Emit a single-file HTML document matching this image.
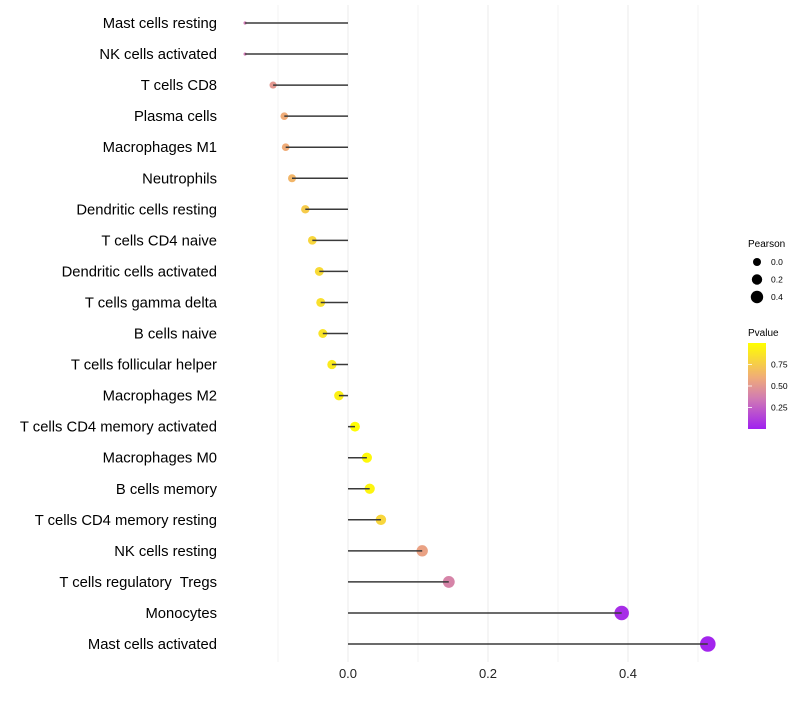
<!DOCTYPE html>
<html><head><meta charset="utf-8"><style>
body{margin:0;background:#fff;font-family:"Liberation Sans",sans-serif}
text{white-space:pre}
</style></head><body>
<svg id="chart" width="800" height="700">
<defs><linearGradient id="pg" x1="0" y1="1" x2="0" y2="0">
<stop offset="0" stop-color="#a020f0"/><stop offset="0.35" stop-color="#d07ab4"/><stop offset="0.6" stop-color="#f0ac78"/><stop offset="1" stop-color="#ffff00"/></linearGradient></defs>
<g id="grid"></g><g id="marks"></g><g id="ylab"></g><g id="xlab"></g>
<g font-size="10">
<text x="748" y="247" fill="#000">Pearson</text>
<g id="sizeleg"></g>
<text x="748" y="336" fill="#000">Pvalue</text>
<rect x="748" y="343" width="18" height="86" fill="url(#pg)"/>
<g id="colleg"></g>
</g>
</svg>
<script>
const categories=["Mast cells resting","NK cells activated","T cells CD8","Plasma cells","Macrophages M1","Neutrophils","Dendritic cells resting","T cells CD4 naive","Dendritic cells activated","T cells gamma delta","B cells naive","T cells follicular helper","Macrophages M2","T cells CD4 memory activated","Macrophages M0","B cells memory","T cells CD4 memory resting","NK cells resting","T cells regulatory  Tregs","Monocytes","Mast cells activated"];
const pearson=[-0.147,-0.147,-0.107,-0.091,-0.089,-0.080,-0.061,-0.051,-0.041,-0.039,-0.036,-0.023,-0.013,0.010,0.027,0.031,0.047,0.106,0.144,0.391,0.514];
const pvalue=[0.35,0.35,0.5,0.6,0.6,0.65,0.75,0.8,0.82,0.85,0.87,0.9,0.93,0.99,0.97,0.95,0.8,0.55,0.4,0.05,0.02];
const xTicks=[0.0,0.2,0.4];
const xGrid=[-0.1,0.0,0.1,0.2,0.3,0.4,0.5];
const sizeLegend=[0.0,0.2,0.4];
const colorLegend=[0.25,0.50,0.75];
const NS="http://www.w3.org/2000/svg";
const X=v=>348+v*700;
const Y=i=>23+i*31.05;
const pmin=Math.min(...pearson),pmax=Math.max(...pearson);
const R=v=>1.6+5.6*Math.sqrt(Math.max(0,(v-pmin)/(pmax-pmin)))+(v>pmin?0.6:0);
function col(p){const st=[[0,[160,32,240]],[0.35,[208,122,180]],[0.6,[240,172,120]],[1,[255,255,0]]];
for(let k=1;k<st.length;k++){if(p<=st[k][0]){const a=st[k-1],b=st[k],t=(p-a[0])/(b[0]-a[0]);return "rgb("+a[1].map((c,j)=>Math.round(c+(b[1][j]-c)*t)).join(",")+")";}}return "rgb(255,255,0)";}
function mk(tag,attrs,parent){const e=document.createElementNS(NS,tag);for(const k in attrs)e.setAttribute(k,attrs[k]);document.getElementById(parent).appendChild(e);return e;}
xGrid.forEach(v=>{const l=mk("line",{x1:X(v),x2:X(v),y1:5,y2:662,stroke:"#ebebeb","stroke-width":xTicks.includes(v)?1:0.6},"grid");

});
categories.forEach((c,i)=>{
const p=mk("circle",{cx:X(pearson[i]),cy:Y(i),r:R(pearson[i]),fill:col(pvalue[i])},"marks");


const s=mk("line",{x1:X(0),x2:X(pearson[i]),y1:Y(i),y2:Y(i),stroke:"#3a3a3a","stroke-width":1.5},"marks");


const t=mk("text",{x:217,y:Y(i)+5,"text-anchor":"end","font-size":14.8,fill:"#000"},"ylab");t.textContent=c;

});
xTicks.forEach(v=>{const t=mk("text",{x:X(v),y:678,"text-anchor":"middle","font-size":13,fill:"#222"},"xlab");t.textContent=v.toFixed(1);

});
sizeLegend.forEach((v,i)=>{const y=262+i*17.5;
const c=mk("circle",{cx:757,cy:y,r:[4,5.2,6.2][i],fill:"#000"},"sizeleg");


const t=mk("text",{x:771,y:y+3,"font-size":8.5,fill:"#000"},"sizeleg");t.textContent=v.toFixed(1);

});
colorLegend.forEach(v=>{const y=429-v*86;
const l=mk("line",{x1:748,x2:752,y1:y,y2:y,stroke:"#fff","stroke-width":0.8},"colleg");


const t=mk("text",{x:771,y:y+3,"font-size":8.5,fill:"#000"},"colleg");t.textContent=v.toFixed(2);

});
</script>
</body></html>
